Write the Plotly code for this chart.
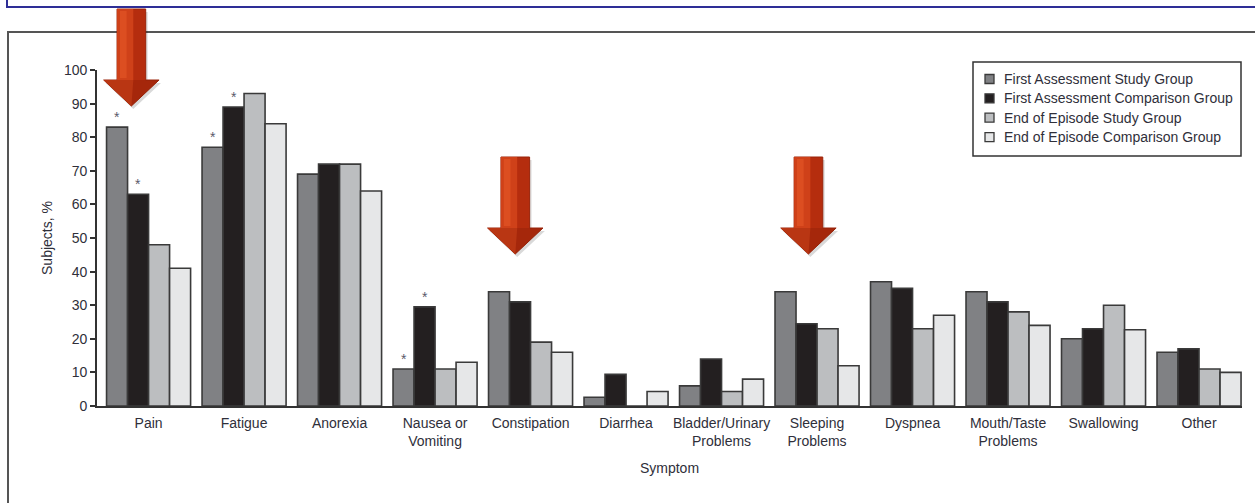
import plotly.graph_objects as go

# ---- data -----------------------------------------------------------------
symptoms = [
    "Pain", "Fatigue", "Anorexia", "Nausea or<br>Vomiting", "Constipation",
    "Diarrhea", "Bladder/Urinary<br>Problems", "Sleeping<br>Problems",
    "Dyspnea", "Mouth/Taste<br>Problems", "Swallowing", "Other",
]
series_names = [
    "First Assessment Study Group",
    "First Assessment Comparison Group",
    "End of Episode Study Group",
    "End of Episode Comparison Group",
]
first_study = [83, 77, 69, 11, 34, 2.6, 6, 34, 37, 34, 20, 16]
first_comparison = [63, 89, 72, 29.5, 31, 9.4, 14, 24.5, 35, 31, 23, 17]
end_study = [48, 93, 72, 11, 19, 0, 4.3, 23, 23, 28, 30, 11]
end_comparison = [41, 84, 64, 13, 16, 4.3, 8, 12, 27, 24, 22.7, 10]
y_ticks = [0, 10, 20, 30, 40, 50, 60, 70, 80, 90, 100]

# (symptom index, series index) pairs flagged with an asterisk
significant = [(0, 0), (0, 1), (1, 0), (1, 1), (3, 0), (3, 1)]
# symptoms called out with a red arrow
highlighted = ["Pain", "Constipation", "Sleeping<br>Problems"]

# ---- style ----------------------------------------------------------------
W, H = 1255, 503
ML, MR, MT, MB = 97, 13, 70, 97
PW, PH = W - ML - MR, H - MT - MB
FONT = "Liberation Sans, Arial, Helvetica, sans-serif"
TEXT = "#2f2f3a"
fills = ["#808184", "#231f20", "#bcbec0", "#e6e7e8"]
outline = "#3a3a3a"
x_range = [-0.54, 11.45]
bargap = 0.12
n_series = 4
bar_w = (1 - bargap) / n_series


def paper_x(px):
    return (px - ML) / PW


def paper_y(py):
    return (H - MB - py) / PH


series = [first_study, first_comparison, end_study, end_comparison]
xpos = list(range(len(symptoms)))

fig = go.Figure()
for name, vals, color in zip(series_names, series, fills):
    fig.add_trace(go.Bar(
        x=xpos, y=vals, name=name, showlegend=False,
        marker=dict(color=color, line=dict(color=outline, width=1.6)),
    ))

annotations = []
for si, gi in significant:
    offset = (gi - (n_series - 1) / 2) * bar_w
    annotations.append(dict(
        x=si + offset, y=series[gi][si], xref="x", yref="y",
        text="*", showarrow=False, yanchor="bottom", yshift=0,
        font=dict(family=FONT, size=14, color="#5a5a6a"),
    ))

shapes = []
# outer frame and top banner line
shapes.append(dict(type="rect", xref="paper", yref="paper",
                   x0=paper_x(8), x1=paper_x(1270), y0=paper_y(32), y1=paper_y(520),
                   line=dict(color="#555555", width=2), fillcolor="rgba(0,0,0,0)", layer="below"))
shapes.append(dict(type="rect", xref="paper", yref="paper",
                   x0=paper_x(7), x1=paper_x(1270), y0=paper_y(-20), y1=paper_y(7),
                   line=dict(color="#2e2e96", width=2), fillcolor="rgba(0,0,0,0)", layer="below"))

# legend: framed box with a swatch and label per series
legend_left, legend_right, legend_top, legend_bottom = 973, 1241, 62, 156
row_first, row_step = 79, 19.35
swatch_x, swatch_size, label_x = 989.5, 9, 1002
shapes.append(dict(type="rect", xref="paper", yref="paper",
                   x0=paper_x(legend_left), x1=paper_x(legend_right),
                   y0=paper_y(legend_top), y1=paper_y(legend_bottom),
                   line=dict(color="#333333", width=1.5), fillcolor="white", layer="below"))
for i, (name, color) in enumerate(zip(series_names, fills)):
    cy = row_first + i * row_step
    shapes.append(dict(type="rect", xref="paper", yref="paper",
                       x0=paper_x(swatch_x - swatch_size / 2), x1=paper_x(swatch_x + swatch_size / 2),
                       y0=paper_y(cy - swatch_size / 2), y1=paper_y(cy + swatch_size / 2),
                       line=dict(color=outline, width=1.3), fillcolor=color))
    annotations.append(dict(
        x=paper_x(label_x), y=paper_y(cy), xref="paper", yref="paper",
        text=name, showarrow=False, xanchor="left", yanchor="middle",
        font=dict(family=FONT, size=14, color=TEXT),
    ))

# red callout arrows: (x offset from group centre, top px, tip px)
arrow_geom = {
    "Pain": (-0.18, 9, 106),
    "Constipation": (-0.16, 157, 254),
    "Sleeping<br>Problems": (-0.09, 157, 254),
}
shaft_half = 0.15
head_half = 0.29
head_len_px = 26


def poly(pts):
    return "M " + " L ".join(f"{x},{paper_y(y)}" for x, y in pts) + " Z"


def arrow_pts(cx, top, tip, half_s, half_h):
    neck = tip - head_len_px
    return [
        (cx - half_s, top), (cx + half_s, top), (cx + half_s, neck),
        (cx + half_h, neck), (cx, tip), (cx - half_h, neck), (cx - half_s, neck),
    ]


for label in highlighted:
    idx = symptoms.index(label)
    off, top, tip = arrow_geom[label]
    cx = idx + off
    neck = tip - head_len_px
    # soft shadow
    shapes.append(dict(type="path", xref="x", yref="paper",
                       path=poly(arrow_pts(cx + 0.02, top + 3, tip + 3, shaft_half, head_half)),
                       fillcolor="rgba(0,0,0,0.15)", line=dict(width=0)))
    # main body
    shapes.append(dict(type="path", xref="x", yref="paper",
                       path=poly(arrow_pts(cx, top, tip, shaft_half, head_half)),
                       fillcolor="#b52d0e", line=dict(color="#9a240a", width=1)))
    # lighter left face
    shapes.append(dict(type="path", xref="x", yref="paper",
                       path=poly([(cx - shaft_half, top), (cx + 0.02, top), (cx + 0.02, neck),
                                  (cx, tip), (cx - head_half, neck), (cx - shaft_half, neck)]),
                       fillcolor="#cf4119", line=dict(width=0)))
    # soft highlight down the shaft
    shapes.append(dict(type="path", xref="x", yref="paper",
                       path=poly([(cx - shaft_half + 0.03, top + 2), (cx - shaft_half + 0.1, top + 2),
                                  (cx - shaft_half + 0.1, neck - 2), (cx - shaft_half + 0.03, neck - 2)]),
                       fillcolor="rgba(235,95,45,0.45)", line=dict(width=0)))
    # darker underside of the head
    shapes.append(dict(type="path", xref="x", yref="paper",
                       path=poly([(cx - head_half, neck), (cx + head_half, neck), (cx, tip)]),
                       fillcolor="rgba(120,25,5,0.25)", line=dict(width=0)))

fig.update_layout(
    width=W, height=H,
    margin=dict(l=ML, r=MR, t=MT, b=MB, pad=0),
    paper_bgcolor="white", plot_bgcolor="white",
    barmode="group", bargap=bargap, bargroupgap=0,
    font=dict(family=FONT, size=14, color=TEXT),
    showlegend=False,
    xaxis=dict(
        range=x_range, tickmode="array", tickvals=xpos, ticktext=symptoms,
        showgrid=False, zeroline=False, showline=True, linecolor="#333333", linewidth=1.6,
        ticks="outside", ticklen=3, tickcolor="rgba(0,0,0,0)",
        tickfont=dict(family=FONT, size=14, color=TEXT),
        title=dict(text="Symptom", font=dict(family=FONT, size=14, color=TEXT), standoff=15),
    ),
    yaxis=dict(
        range=[0, 100], tickmode="array", tickvals=y_ticks,
        showgrid=False, zeroline=False, showline=True, linecolor="#333333", linewidth=1.6,
        ticks="outside", ticklen=5, tickwidth=1.6, tickcolor="#333333",
        tickfont=dict(family=FONT, size=14, color=TEXT),
        title=dict(text="Subjects, %", font=dict(family=FONT, size=14, color=TEXT), standoff=8),
    ),
    annotations=annotations,
    shapes=shapes,
)

fig.write_html("out.html")
